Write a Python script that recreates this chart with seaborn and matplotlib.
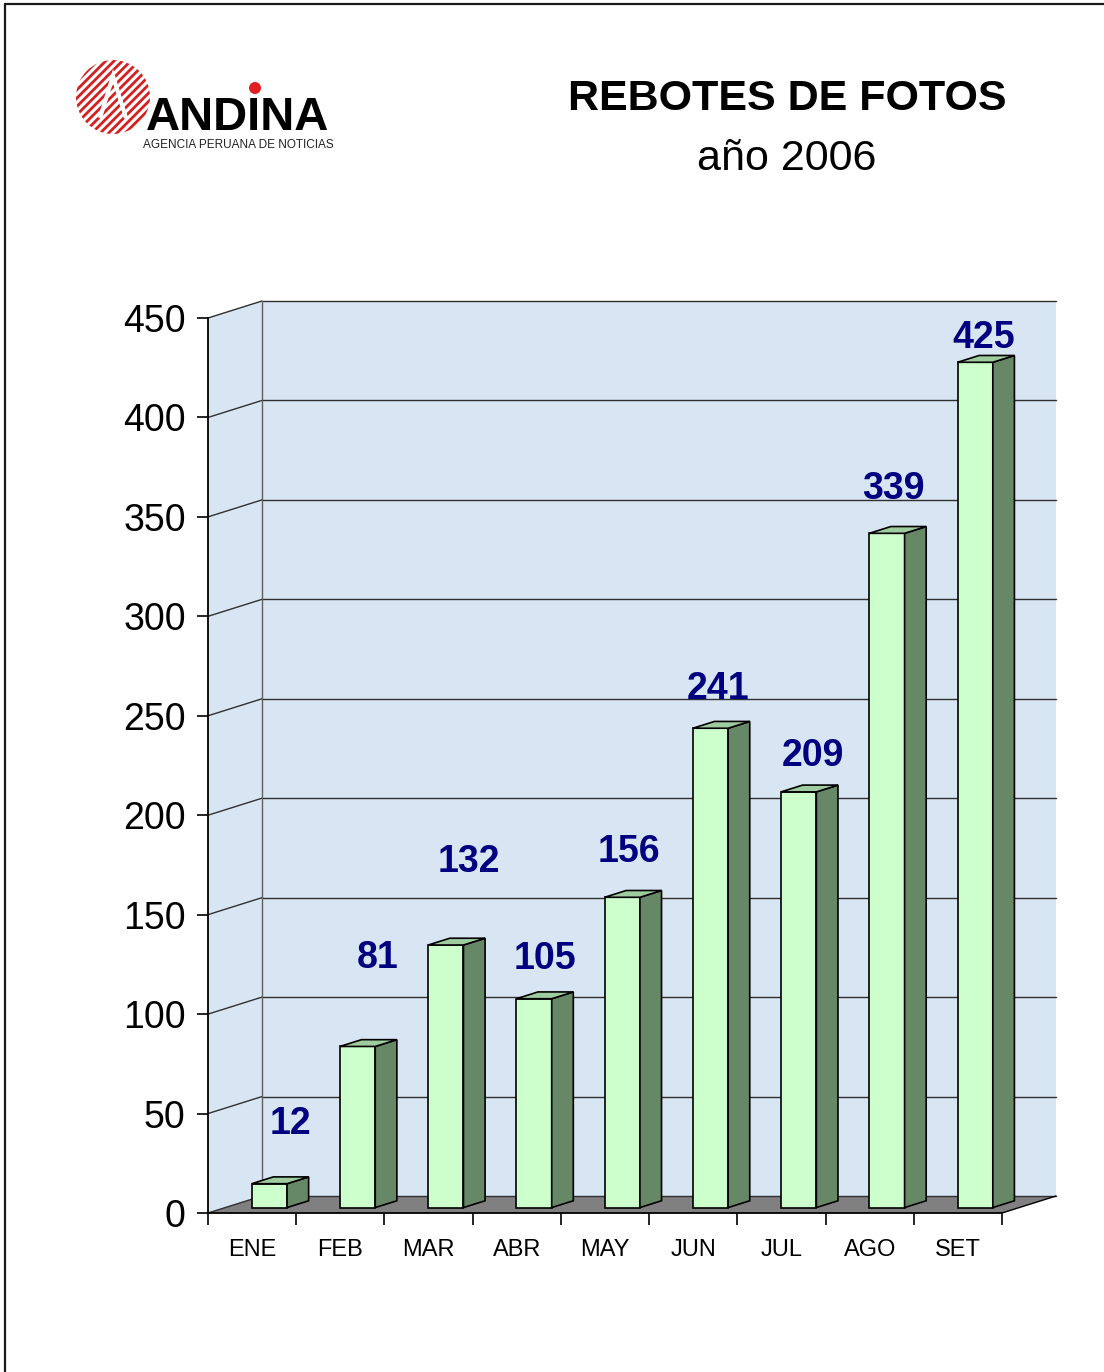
import matplotlib
matplotlib.use("Agg")
import matplotlib.pyplot as plt
import seaborn as sns
import numpy as np
from matplotlib.patches import Polygon, Circle
from matplotlib.lines import Line2D
from matplotlib.transforms import IdentityTransform, ScaledTranslation

# ---------------- data ----------------
MONTHS = ["ENE", "FEB", "MAR", "ABR", "MAY", "JUN", "JUL", "AGO", "SET"]
REBOTES = [12, 81, 132, 105, 156, 241, 209, 339, 425]
Y_TICKS = [0, 50, 100, 150, 200, 250, 300, 350, 400, 450]
TITLE = "REBOTES DE FOTOS"
SUBTITLE = "año 2006"
LOGO_NAME = "ANDINA"
LOGO_SUB = "AGENCIA PERUANA DE NOTICIAS"

# ---------------- layout / style ----------------
W, H, DPI = 1104, 1372, 100
DEPTH = np.array([54.0, 17.0])          # 3-D depth offset in px
BAR_FRONT, BAR_BACK = 0.32, 0.72        # bar depth fractions
LABEL_NUDGE_PX = [(21, 60), (20, 88), (23, 83), (11, 40), (7, 45),
                  (8, 39), (14, 36), (6, 44), (9, 24)]
WALL = "#d8e5f3"
FLOOR = "#808080"
FRONT = "#ccffcc"
SIDE = "#668866"
TOP = "#9fcc9f"
LABEL_C = "#000080"

sns.set_theme(style="white")
plt.rcParams["font.family"] = ["Liberation Sans", "DejaVu Sans"]
plt.rcParams["hatch.color"] = "#d42020"
plt.rcParams["hatch.linewidth"] = 2.0

fig = plt.figure(figsize=(W / DPI, H / DPI), dpi=DPI)
fig.patch.set_facecolor("white")
ax = fig.add_axes([208 / W, (H - 1213) / H, 794 / W, 895 / H])

sns.barplot(x=MONTHS, y=REBOTES, ax=ax, width=0.4, color=FRONT,
            saturation=1, edgecolor="black", linewidth=1.2, zorder=4)
bars = list(ax.patches)

ax.set_xlim(-0.5, len(MONTHS) - 0.5)
ax.set_ylim(0, 450)
ax.patch.set_visible(False)
for s in ["top", "right"]:
    ax.spines[s].set_visible(False)
for s in ["left", "bottom"]:
    ax.spines[s].set_color("black")
    ax.spines[s].set_linewidth(1.3)
    ax.spines[s].set_zorder(6)

ax.set_yticks(Y_TICKS)
ax.set_yticklabels([str(t) for t in Y_TICKS], fontsize=27, color="black")
ax.tick_params(axis="y", direction="out", length=8, width=1.2, color="black",
               pad=8, left=True, labelcolor="black")
ax.set_xticks(np.arange(-0.5, len(MONTHS), 1.0))
ax.set_xticklabels([])
ax.set_xticks(np.arange(len(MONTHS)), minor=True)
ax.set_xticklabels(MONTHS, minor=True, fontsize=17, color="black")
ax.tick_params(axis="x", which="major", direction="out", length=8.5,
               width=1.2, color="black", bottom=True)
ax.tick_params(axis="x", which="minor", length=0, pad=19, labelcolor="black")
ax.set_xlabel("")
ax.set_ylabel("")

ID = IdentityTransform()


def disp(x, y):
    return np.array(ax.transData.transform((x, y)))


x_lo, x_hi = ax.get_xlim()
fl, fr = disp(x_lo, 0), disp(x_hi, 0)
tl, tr = disp(x_lo, 450), disp(x_hi, 450)

# walls and floor
for pts, col in [([fl + DEPTH, fr + DEPTH, tr + DEPTH, tl + DEPTH], WALL),
                 ([fl, fl + DEPTH, tl + DEPTH, tl], WALL),
                 ([fl, fr, fr + DEPTH, fl + DEPTH], FLOOR)]:
    ax.add_patch(Polygon(pts, closed=True, facecolor=col, edgecolor="none",
                         transform=ID, clip_on=False, zorder=1))

# gridlines on side and back walls
for t in Y_TICKS:
    p0 = disp(x_lo, t)
    p1 = disp(x_hi, t)
    ax.add_line(Line2D([p0[0], p0[0] + DEPTH[0]], [p0[1], p0[1] + DEPTH[1]],
                       color="#303030", lw=1.0, transform=ID, clip_on=False, zorder=2))
    ax.add_line(Line2D([p0[0] + DEPTH[0], p1[0] + DEPTH[0]],
                       [p0[1] + DEPTH[1], p1[1] + DEPTH[1]],
                       color="#303030", lw=1.0, transform=ID, clip_on=False, zorder=2))
# back-left vertical edge
ax.add_line(Line2D([fl[0] + DEPTH[0], tl[0] + DEPTH[0]],
                   [fl[1] + DEPTH[1], tl[1] + DEPTH[1]],
                   color="#606060", lw=1.0, transform=ID, clip_on=False, zorder=2))
# floor right edge
ax.add_line(Line2D([fr[0], fr[0] + DEPTH[0]], [fr[1], fr[1] + DEPTH[1]],
                   color="black", lw=1.0, transform=ID, clip_on=False, zorder=2))

# 3-D bars
off_f = DEPTH * BAR_FRONT
off_b = DEPTH * BAR_BACK
for i, p in enumerate(bars):
    x0, w, h = p.get_x(), p.get_width(), p.get_height()
    p.set_transform(ax.transData + ScaledTranslation(off_f[0] / DPI, off_f[1] / DPI,
                                                     fig.dpi_scale_trans))
    p.set_clip_on(False)
    br, tl_, tr_ = disp(x0 + w, 0), disp(x0, h), disp(x0 + w, h)
    side = [br + off_f, br + off_b, tr_ + off_b, tr_ + off_f]
    top = [tl_ + off_f, tr_ + off_f, tr_ + off_b, tl_ + off_b]
    ax.add_patch(Polygon(side, closed=True, facecolor=SIDE, edgecolor="black",
                         lw=1.2, transform=ID, clip_on=False, zorder=4))
    ax.add_patch(Polygon(top, closed=True, facecolor=TOP, edgecolor="black",
                         lw=1.2, transform=ID, clip_on=False, zorder=4))
    c = disp(x0 + w / 2, h) + off_f + np.array(LABEL_NUDGE_PX[i])
    ax.text(c[0], c[1], str(REBOTES[i]), transform=ID, ha="center", va="center",
            fontsize=27, fontweight="bold", color=LABEL_C, zorder=7, clip_on=False)

# titles
fig.text(787 / W, 1 - 99 / H, TITLE, ha="center", va="center", fontsize=31,
         fontweight="bold", color="black")
fig.text(787 / W, 1 - 159 / H, SUBTITLE, ha="center", va="center", fontsize=31,
         color="black")

# logo
fig.add_artist(Circle((113, H - 97), 37, transform=ID, facecolor="white",
                      edgecolor="#d42020", hatch="////", lw=0))
fig.add_artist(Polygon([(100, H - 118), (113, H - 76), (126, H - 118)], closed=False,
                       transform=ID, facecolor="none", edgecolor="white", lw=3))
fig.text(238 / W, 1 - 118 / H, LOGO_NAME, ha="center", va="center", fontsize=34,
         fontweight="heavy", color="black")
fig.add_artist(Circle((255, H - 88), 6, transform=ID, facecolor="#e02020",
                      edgecolor="none"))
fig.text(238 / W, 1 - 145 / H, LOGO_SUB, ha="center", va="center", fontsize=8.5,
         color="#222222")

# border (top and left)
fig.add_artist(Line2D([5, W], [H - 4, H - 4], transform=ID, color="#1a1a1a", lw=1.6))
fig.add_artist(Line2D([5, 5], [0, H - 4], transform=ID, color="#1a1a1a", lw=1.6))

fig.savefig("out.png", dpi=DPI)
